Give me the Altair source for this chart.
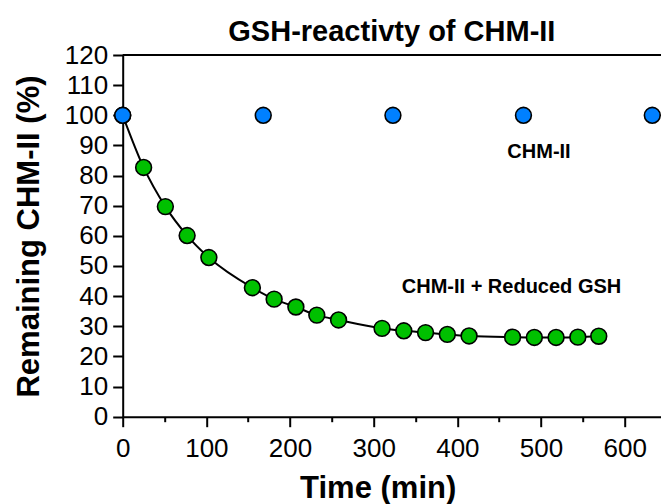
import altair as alt
import pandas as pd

# ---- data ----
blue_time = [0, 168, 323, 479, 633]
blue_val = [100, 100, 100, 100, 100]

green_time = [0, 25, 51, 77, 103, 155, 181, 207, 232, 258, 310, 336, 362, 388, 414,
              466, 492, 518, 544, 569]
green_val = [100, 82.7, 69.7, 60.1, 52.8, 42.8, 39.0, 36.4, 33.7, 32.1, 29.3, 28.5,
             27.9, 27.3, 26.8, 26.4, 26.3, 26.3, 26.4, 26.7]

label_text = ["CHM-II", "CHM-II + Reduced GSH"]
label_x = [497.6, 464.7]
label_y = [85.8, 40.9]

x_ticks = [0, 50, 100, 150, 200, 250, 300, 350, 400, 450, 500, 550, 600]
y_ticks = [0, 10, 20, 30, 40, 50, 60, 70, 80, 90, 100, 110, 120]

FONT = "Liberation Sans"

blue_df = pd.DataFrame({"t": blue_time, "v": blue_val})
green_df = pd.DataFrame({"t": green_time, "v": green_val})
lab_df = pd.DataFrame({"t": label_x, "v": label_y, "txt": label_text})
top_df = pd.DataFrame({"v": [120]})

xscale = alt.Scale(domain=[0, 643.4], nice=False, zero=False)
yscale = alt.Scale(domain=[0, 120], nice=False)

xaxis = alt.Axis(
    values=x_ticks,
    title="Time (min)",
    titleFont=FONT, titleFontSize=31, titleFontWeight="bold", titleColor="black",
    titleX=255, titleY=81, titleBaseline="alphabetic", titleAlign="center",
    labelFont=FONT, labelFontSize=26, labelColor="black",
    labelExpr="datum.value % 100 === 0 ? datum.label : ''",
    labelPadding=9, labelFlush=False, labelOverlap=False,
    tickSize={"condition": {"test": "datum.value % 100 === 0", "value": 10}, "value": 5},
    tickWidth=2, tickColor="black",
    domainColor="black", domainWidth=2, grid=False,
)
yaxis = alt.Axis(
    values=y_ticks,
    title="Remaining CHM-II (%)",
    titleFont=FONT, titleFontSize=31, titleFontWeight="bold", titleColor="black",
    titleX=-84, titleY=181, titleAngle=270, titleBaseline="alphabetic", titleAlign="center",
    labelFont=FONT, labelFontSize=26, labelColor="black",
    labelPadding=5, labelFlush=False, labelOverlap=False,
    tickSize=10, tickWidth=2, tickColor="black",
    domainColor="black", domainWidth=2, grid=False,
)

x = alt.X("t:Q", scale=xscale, axis=xaxis)
y = alt.Y("v:Q", scale=yscale, axis=yaxis)

top_line = alt.Chart(top_df).mark_rule(color="black", strokeWidth=2).encode(
    y=alt.Y("v:Q", scale=yscale, axis=yaxis)
)

line = alt.Chart(green_df).mark_line(color="black", strokeWidth=2, interpolate="monotone").encode(x=x, y=y)

green_pts = alt.Chart(green_df).mark_point(
    shape="circle", filled=True, fill="#00C000", stroke="black", strokeWidth=1.6,
    size=250, opacity=1
).encode(x=x, y=y)

blue_pts = alt.Chart(blue_df).mark_point(
    shape="circle", filled=True, fill="#0080FF", stroke="black", strokeWidth=1.6,
    size=250, opacity=1
).encode(x=x, y=y)

labels = alt.Chart(lab_df).mark_text(
    font=FONT, fontSize=20, fontWeight="bold", color="black",
    align="center", baseline="alphabetic"
).encode(x=x, y=y, text="txt:N")

chart = alt.layer(top_line, line, green_pts, blue_pts, labels).properties(
    width=538.3,
    height=361.7,
    autosize=alt.AutoSizeParams(type="none"),
    padding={"left": 122.7, "top": 55, "right": 0, "bottom": 87.3},
    title=alt.TitleParams(
        "GSH-reactivty of CHM-II", font=FONT, fontSize=29, fontWeight="bold",
        color="black", anchor="middle", frame="group", baseline="bottom", offset=0,
        dy=34
    ),
).configure_view(stroke=None).configure(background="white")

chart.save("out.html", embed_options={"renderer": "svg", "actions": False})
